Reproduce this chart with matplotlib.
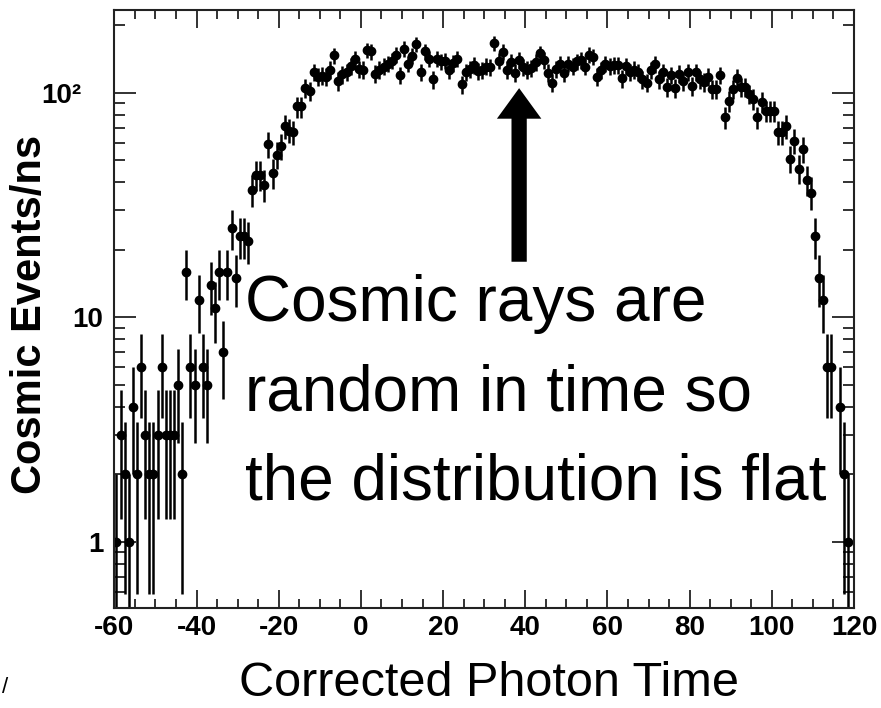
import numpy as np
import matplotlib
matplotlib.use('Agg')  # no display
import matplotlib.pyplot as plt
import matplotlib.transforms as mtransforms
from matplotlib.ticker import (FixedLocator, FixedFormatter, MultipleLocator,
                               LogLocator, NullFormatter)

plt.rcParams['axes.unicode_minus'] = False

# 1 ns bins, counts (0 = empty bin)
time_ns = np.arange(-59.5, 120.0, 1.0)
counts = np.array([
    1, 3, 2, 1, 4, 2, 6, 3, 2, 2,
    3, 6, 3, 3, 3, 5, 2, 16, 6, 5,
    12, 6, 5, 14, 11, 16, 7, 16, 25, 15,
    23, 23, 22, 37, 43, 43, 39, 59, 44, 53,
    58, 71, 68, 67, 87, 87, 105, 102, 124, 118,
    119, 118, 127, 147, 113, 121, 124, 132, 142, 128,
    127, 155, 153, 122, 127, 131, 135, 139, 148, 120,
    157, 135, 146, 165, 124, 153, 142, 115, 142, 138,
    139, 127, 136, 142, 109, 124, 128, 133, 125, 126,
    131, 130, 166, 139, 152, 127, 137, 123, 140, 130,
    127, 129, 137, 150, 140, 123, 111, 128, 135, 123,
    135, 131, 138, 140, 131, 148, 145, 118, 126, 135,
    132, 133, 133, 116, 132, 124, 127, 124, 115, 111,
    126, 134, 115, 124, 106, 120, 105, 122, 113, 124,
    107, 124, 115, 112, 118, 104, 104, 120, 78, 92,
    104, 117, 106, 106, 99, 94, 78, 91, 83, 83,
    83, 67, 67, 71, 51, 61, 46, 56, 41, 36,
    23, 15, 12, 6, 6, 0, 4, 2, 1, 0,
], dtype=float)

y_ticks = [1, 10, 100]
y_tick_labels = ['1', '10', '10²']

note_lines = ['Cosmic rays are', 'random in time so', 'the distribution is flat']
arrow_time = 38.5
arrow_from, arrow_to = 17.7, 105

font = 'Liberation Sans'
W, H = 881, 708

fig = plt.figure(figsize=(W / 100, H / 100), dpi=100)
ax = fig.add_axes([114.4 / W, 1 - 608 / H, (854 - 114.4) / W, (608 - 10) / H])

# poisson errors, the lower end of single counts runs off the bottom
mask = counts > 0
n = counts[mask]
err = np.sqrt(n)
lower = np.where(n - err > 0, err, n * 0.999)
ax.errorbar(time_ns[mask], n, yerr=[lower, err], fmt='o', color='black',
            ms=6, elinewidth=1.8, capsize=0)

ax.set_yscale('log')
ax.set_xlim(-60, 120)
ax.set_ylim(0.508, 234)

ax.xaxis.set_major_locator(MultipleLocator(20))
ax.xaxis.set_minor_locator(MultipleLocator(5))
ax.yaxis.set_major_locator(FixedLocator(y_ticks))
ax.yaxis.set_major_formatter(FixedFormatter(y_tick_labels))
ax.yaxis.set_minor_locator(LogLocator(base=10, subs=np.arange(2, 10)))
ax.yaxis.set_minor_formatter(NullFormatter())

ax.tick_params(which='both', direction='in', top=True, right=True,
               width=1.3, color='#222222')
ax.tick_params(axis='y', which='major', length=16, pad=8)
ax.tick_params(axis='y', which='minor', length=8)
ax.tick_params(axis='x', which='major', length=13, pad=5)
ax.tick_params(axis='x', which='minor', length=6.5)
for lab in ax.get_xticklabels() + ax.get_yticklabels():
    lab.set_family(font)
    lab.set_fontweight('bold')
    lab.set_fontsize(20)
for sp in ax.spines.values():
    sp.set_linewidth(1.5)
    sp.set_color('#222222')

# the 10^2 label sits further left in the original
top_label = ax.yaxis.get_major_ticks()[-1].label1
top_label.set_transform(top_label.get_transform() +
                        mtransforms.ScaledTranslation(-0.22, 0, fig.dpi_scale_trans))

# arrow pointing at the flat part
ax.annotate('', xy=(arrow_time, arrow_to), xytext=(arrow_time, arrow_from),
            arrowprops=dict(arrowstyle='simple,head_length=1.1,head_width=1.6,tail_width=0.55',
                            fc='black', ec='black', lw=0, shrinkA=0, shrinkB=0,
                            mutation_scale=20))

for i, line in enumerate(note_lines):
    fig.text(245 / W, 1 - (321 + 89 * i) / H, line, fontsize=46,
             family=font, ha='left', va='baseline')

fig.text(489 / W, 1 - 696 / H, 'Corrected Photon Time', fontsize=35,
         family=font, ha='center', va='baseline')
fig.text(30 / W, 1 - 314 / H, 'Cosmic Events/ns', fontsize=30, fontweight='bold',
         family=font, rotation=90, ha='center', va='center')
fig.text(2 / W, 1 - 693 / H, '/', fontsize=16, family=font,
         ha='left', va='baseline')

fig.savefig('out.png', dpi=100)
